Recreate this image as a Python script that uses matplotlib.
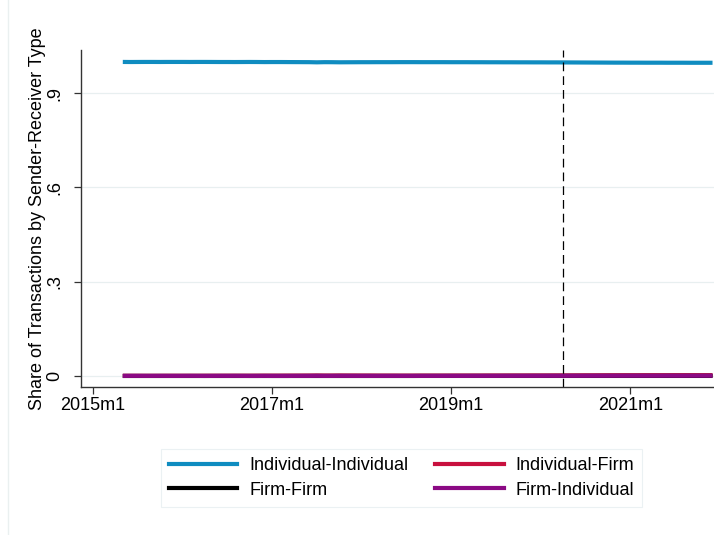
import numpy as np
import matplotlib.pyplot as plt
from matplotlib.lines import Line2D

plt.rcParams['font.family'] = ['Liberation Sans', 'DejaVu Sans']

# months since 2015m1, data runs 2015m5 .. 2021m12
months = list(range(4, 84))

ind_ind = [0.9990, 0.9988, 0.9989, 0.9990, 0.9990, 0.9989, 0.9990, 0.9990, 0.9990, 0.9989,
           0.9990, 0.9990, 0.9989, 0.9988, 0.9988, 0.9987, 0.9988, 0.9989, 0.9988, 0.9986,
           0.9987, 0.9987, 0.9986, 0.9985, 0.9984, 0.9983, 0.9978, 0.9983, 0.9982, 0.9979,
           0.9980, 0.9981, 0.9982, 0.9982, 0.9983, 0.9983, 0.9983, 0.9984, 0.9984, 0.9984,
           0.9983, 0.9983, 0.9983, 0.9983, 0.9982, 0.9982, 0.9982, 0.9981, 0.9981, 0.9980,
           0.9980, 0.9979, 0.9979, 0.9978, 0.9978, 0.9977, 0.9977, 0.9976, 0.9976, 0.9975,
           0.9974, 0.9973, 0.9972, 0.9971, 0.9970, 0.9969, 0.9968, 0.9968, 0.9967, 0.9967,
           0.9966, 0.9966, 0.9966, 0.9965, 0.9965, 0.9965, 0.9964, 0.9964, 0.9964, 0.9964]

ind_firm = [0.0006, 0.0006, 0.0006, 0.0006, 0.0006, 0.0006, 0.0007, 0.0007, 0.0007, 0.0007,
            0.0007, 0.0008, 0.0008, 0.0008, 0.0009, 0.0009, 0.0009, 0.0009, 0.0010, 0.0011,
            0.0011, 0.0011, 0.0012, 0.0012, 0.0013, 0.0014, 0.0016, 0.0014, 0.0014, 0.0016,
            0.0015, 0.0015, 0.0014, 0.0014, 0.0013, 0.0013, 0.0013, 0.0012, 0.0012, 0.0012,
            0.0013, 0.0013, 0.0013, 0.0013, 0.0013, 0.0014, 0.0014, 0.0014, 0.0014, 0.0015,
            0.0015, 0.0015, 0.0016, 0.0016, 0.0016, 0.0017, 0.0017, 0.0017, 0.0018, 0.0018,
            0.0019, 0.0020, 0.0021, 0.0021, 0.0022, 0.0023, 0.0023, 0.0024, 0.0024, 0.0024,
            0.0025, 0.0025, 0.0025, 0.0025, 0.0026, 0.0026, 0.0026, 0.0026, 0.0026, 0.0026]

firm_firm = [0.0001] * 40 + [0.0002] * 40

firm_ind = [0.0003, 0.0004, 0.0004, 0.0003, 0.0003, 0.0004, 0.0003, 0.0003, 0.0003, 0.0004,
            0.0003, 0.0002, 0.0003, 0.0004, 0.0003, 0.0004, 0.0003, 0.0002, 0.0002, 0.0003,
            0.0002, 0.0002, 0.0002, 0.0003, 0.0003, 0.0003, 0.0005, 0.0003, 0.0003, 0.0004,
            0.0004, 0.0003, 0.0003, 0.0003, 0.0003, 0.0003, 0.0003, 0.0003, 0.0003, 0.0003,
            0.0003, 0.0003, 0.0003, 0.0003, 0.0004, 0.0003, 0.0003, 0.0004, 0.0004, 0.0004,
            0.0004, 0.0005, 0.0004, 0.0005, 0.0005, 0.0005, 0.0005, 0.0006, 0.0005, 0.0006,
            0.0006, 0.0006, 0.0006, 0.0007, 0.0007, 0.0007, 0.0008, 0.0007, 0.0008, 0.0008,
            0.0008, 0.0008, 0.0008, 0.0009, 0.0008, 0.0008, 0.0009, 0.0009, 0.0009, 0.0009]

xticks = [0, 24, 48, 72]
xticklabels = ['2015m1', '2017m1', '2019m1', '2021m1']
yticks = [0, 0.3, 0.6, 0.9]
yticklabels = ['0', '.3', '.6', '.9']
vline_month = 63  # 2020m4

c_blue = '#0f8cc0'
c_red = '#c8103e'
c_purple = '#8b0a84'
fs = 13

fig = plt.figure(figsize=(7.14, 5.35), dpi=100)
ax = fig.add_axes([81 / 714, 1 - 387 / 535, 1 - 81 / 714, (387 - 50) / 535])

lw = 3.0
ax.plot(months, ind_ind, color=c_blue, lw=lw, solid_capstyle='butt')
ax.plot(months, ind_firm, color=c_red, lw=lw, solid_capstyle='butt')
ax.plot(months, firm_firm, color='black', lw=lw, solid_capstyle='butt')
ax.plot(months, firm_ind, color=c_purple, lw=lw, solid_capstyle='butt')

ax.axvline(vline_month, color='black', lw=0.9, ls=(0, (7, 4)))

ax.set_xlim(-1.6, 83.2)
ax.set_ylim(-0.035, 1.037)
ax.set_xticks(xticks)
ax.set_xticklabels(xticklabels, fontsize=fs)
ax.set_yticks(yticks)
ax.set_yticklabels(yticklabels, fontsize=fs, rotation=90, va='center')
ax.yaxis.grid(True, color='#e8eff0', lw=0.9)
ax.set_axisbelow(True)
ax.set_ylabel('Share of Transactions by Sender-Receiver Type', fontsize=fs, labelpad=0)

for s in ['top', 'right']:
    ax.spines[s].set_visible(False)
for s in ['left', 'bottom']:
    ax.spines[s].set_color('#333333')
    ax.spines[s].set_linewidth(1.0)
ax.tick_params(axis='x', length=5, width=0.9, color='#333333', pad=2)
ax.tick_params(axis='y', length=5, width=0.9, color='#333333', pad=8)

handles = [Line2D([], [], color=c_blue, lw=lw),
           Line2D([], [], color='black', lw=lw),
           Line2D([], [], color=c_red, lw=lw),
           Line2D([], [], color=c_purple, lw=lw)]
labels = ['Individual-Individual', 'Firm-Firm', 'Individual-Firm', 'Firm-Individual']
leg = fig.legend(handles, labels, ncol=2, loc='center', bbox_to_anchor=(401.5 / 714, 1 - 478 / 535),
                 fontsize=fs, frameon=True, fancybox=False, handlelength=3.8, handletextpad=0.65,
                 columnspacing=1.5, labelspacing=0.4, borderpad=0.45)
leg.get_frame().set_edgecolor('#e6eef0')
leg.get_frame().set_linewidth(0.8)

fig.add_artist(Line2D([8 / 714, 8 / 714], [0, 1], color='#eaf0f0', lw=1.0))

fig.savefig('out.png', dpi=100)
